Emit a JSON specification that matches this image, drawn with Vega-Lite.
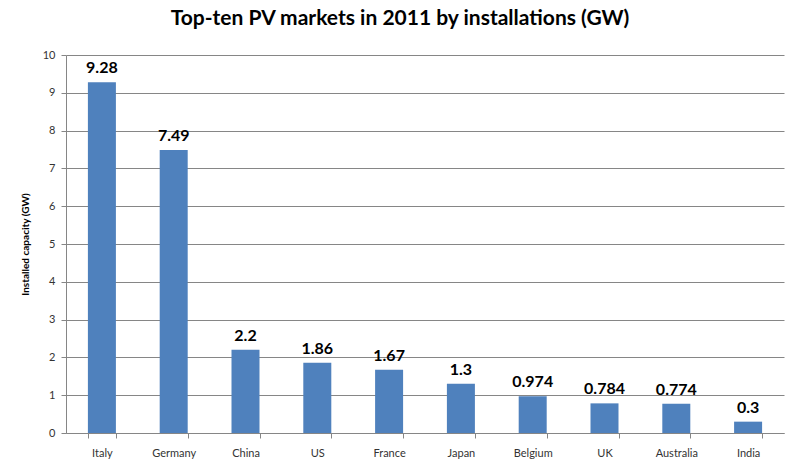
{
  "$schema": "https://vega.github.io/schema/vega-lite/v6.json",
  "width": 718,
  "height": 378,
  "autosize": {"type": "none"},
  "padding": {"left": 66, "top": 55, "right": 16, "bottom": 43},
  "background": "white",
  "title": {
    "text": "Top-ten PV markets in 2011 by installations (GW)",
    "font": "Lato",
    "fontSize": 21,
    "fontWeight": "bold",
    "color": "#000000",
    "anchor": "middle",
    "dx": -25,
    "offset": 20
  },
  "data": {
    "values": [
      {"country": "Italy", "gw": 9.28, "label": "9.28"},
      {"country": "Germany", "gw": 7.49, "label": "7.49"},
      {"country": "China", "gw": 2.2, "label": "2.2"},
      {"country": "US", "gw": 1.86, "label": "1.86"},
      {"country": "France", "gw": 1.67, "label": "1.67"},
      {"country": "Japan", "gw": 1.3, "label": "1.3"},
      {"country": "Belgium", "gw": 0.974, "label": "0.974"},
      {"country": "UK", "gw": 0.784, "label": "0.784"},
      {"country": "Australia", "gw": 0.774, "label": "0.774"},
      {"country": "India", "gw": 0.3, "label": "0.3"}
    ]
  },
  "encoding": {
    "x": {
      "field": "country",
      "type": "nominal",
      "sort": null,
      "scale": {"paddingInner": 0.61, "paddingOuter": 0.305},
      "axis": {
        "title": null,
        "labelAngle": 0,
        "labelFont": "Lato",
        "labelFontSize": 11,
        "labelColor": "#333333",
        "labelPadding": 9,
        "tickBand": "extent",
        "tickSize": 5,
        "tickColor": "#868686",
        "domainColor": "#868686",
        "grid": false
      }
    },
    "y": {
      "field": "gw",
      "type": "quantitative",
      "scale": {"domain": [0, 10], "nice": false},
      "axis": {
        "title": "Installed capacity (GW)",
        "titleFont": "Lato",
        "titleFontSize": 10,
        "titleFontWeight": "bold",
        "titleColor": "#000000",
        "titlePadding": 12,
        "values": [0, 1, 2, 3, 4, 5, 6, 7, 8, 9, 10],
        "labelFont": "Lato",
        "labelFontSize": 11,
        "labelColor": "#333333",
        "labelPadding": 6,
        "tickSize": 5,
        "tickColor": "#868686",
        "domainColor": "#868686",
        "gridColor": "#868686",
        "gridWidth": 1
      }
    }
  },
  "layer": [
    {"mark": {"type": "bar", "color": "#4F81BD"}},
    {
      "mark": {"type": "text", "baseline": "bottom", "dy": -6, "font": "Lato", "fontSize": 16, "fontWeight": "bold", "color": "#000000"},
      "encoding": {"text": {"field": "label"}}
    }
  ],
  "config": {"view": {"stroke": null}}
}
